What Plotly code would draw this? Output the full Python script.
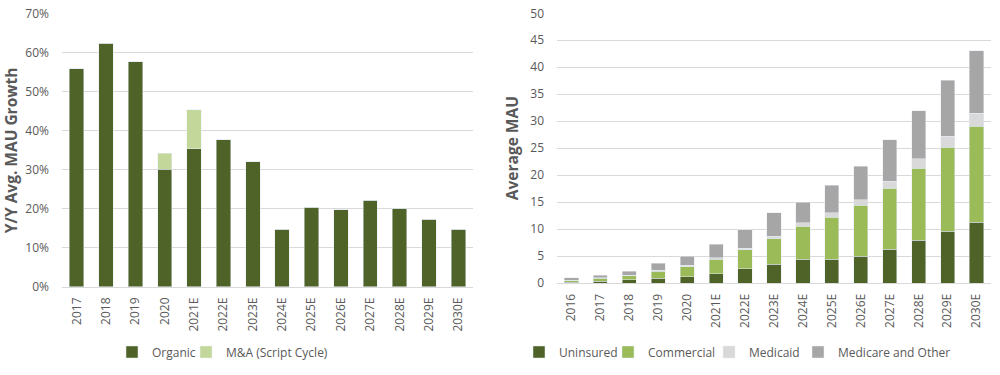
import plotly.graph_objects as go

# Left chart data
years_left = ["2017", "2018", "2019", "2020", "2021E", "2022E", "2023E", "2024E",
              "2025E", "2026E", "2027E", "2028E", "2029E", "2030E"]
organic = [0.560, 0.625, 0.578, 0.302, 0.354, 0.377, 0.321, 0.147,
           0.204, 0.197, 0.222, 0.201, 0.173, 0.147]
mna = [0, 0, 0, 0.040, 0.100, 0, 0, 0, 0, 0, 0, 0, 0, 0]

# Right chart data
years_right = ["2016", "2017", "2018", "2019", "2020", "2021E", "2022E", "2023E",
               "2024E", "2025E", "2026E", "2027E", "2028E", "2029E", "2030E"]
uninsured = [0.12, 0.37, 0.56, 0.88, 1.2, 1.73, 2.6, 3.46, 4.45, 4.45, 4.94, 6.3, 7.97, 9.64, 11.3]
commercial = [0.38, 0.5, 0.74, 1.34, 1.83, 2.72, 3.52, 4.7, 6.05, 7.75, 9.46, 11.3, 13.33, 15.56, 17.8]
medicaid = [0.05, 0.1, 0.18, 0.18, 0.25, 0.25, 0.31, 0.49, 0.7, 0.84, 1.0, 1.3, 1.75, 2.05, 2.4]
medicare = [0.38, 0.45, 0.74, 1.24, 1.72, 2.45, 3.4, 4.39, 3.8, 5.06, 6.2, 7.7, 8.9, 10.35, 11.6]

DARK = "#4F6228"
LIGHT = "#C4D79B"
COMM = "#9BBB59"
MEDICAID = "#D9D9D9"
MEDICARE = "#A6A6A6"
TXT = "#595959"
GRID = "#D9D9D9"
FONT = "Open Sans"

W, H = 1000, 375

fig = go.Figure()

# one legend box per series so each entry sits where the reference puts it
left_series = [("Organic", organic, DARK, 152), ("M&A (Script Cycle)", mna, LIGHT, 226)]
right_series = [("Uninsured", uninsured, DARK, 559), ("Commercial", commercial, COMM, 648),
                ("Medicaid", medicaid, MEDICAID, 749), ("Medicare and Other", medicare, MEDICARE, 838)]

legend_layouts = {}
idx = 1
for name, vals, col, tx in left_series:
    key = "legend" if idx == 1 else f"legend{idx}"
    fig.add_trace(go.Bar(x=years_left, y=vals, name=name, marker_color=col,
                         xaxis="x", yaxis="y", legend=key, showlegend=True))
    legend_layouts[key] = tx
    idx += 1
for name, vals, col, tx in right_series:
    key = f"legend{idx}"
    fig.add_trace(go.Bar(x=years_right, y=vals, name=name, marker_color=col,
                         xaxis="x2", yaxis="y2", legend=key, showlegend=True))
    legend_layouts[key] = tx
    idx += 1

tickfont = dict(family=FONT, size=12, color=TXT)
titlefont = dict(family=FONT, size=15.5, color=TXT, weight="bold")

layout = dict(
    width=W, height=H,
    margin=dict(l=0, r=0, t=0, b=0, autoexpand=False),
    showlegend=True,
    paper_bgcolor="white", plot_bgcolor="white",
    barmode="stack",
    bargap=0.51,
    font=dict(family=FONT, color=TXT),
    hovermode=False,
    xaxis=dict(domain=[62 / W, 473 / W], anchor="y", tickangle=-90, tickfont=tickfont,
               showline=True, linecolor=GRID, linewidth=1, ticks="", showgrid=False,
               automargin=False, ticklabelstandoff=5),
    yaxis=dict(domain=[1 - 286.7 / H, 1 - 14 / H], anchor="x", range=[0, 0.7],
               dtick=0.1, tickformat=".0%", tickfont=tickfont, gridcolor=GRID,
               gridwidth=1, zeroline=False, ticks="", automargin=False,
               ticklabelstandoff=12,
               title=dict(text="Y/Y Avg. MAU Growth", font=titlefont, standoff=6)),
    xaxis2=dict(domain=[557 / W, 991 / W], anchor="y2", tickangle=-90, tickfont=tickfont,
                showline=True, linecolor=GRID, linewidth=1, ticks="", showgrid=False,
                automargin=False, ticklabelstandoff=5),
    yaxis2=dict(domain=[1 - 283 / H, 1 - 13.3 / H], anchor="x2", range=[0, 50],
                dtick=5, tickfont=tickfont, gridcolor=GRID, gridwidth=1,
                zeroline=False, ticks="", automargin=False, ticklabelstandoff=12,
                title=dict(text="Average MAU", font=titlefont, standoff=7)),
)
for key, tx in legend_layouts.items():
    layout[key] = dict(orientation="h", x=(tx - 40) / W, xanchor="left",
                       y=1 - 352 / H, yanchor="middle",
                       font=dict(family=FONT, size=12, color=TXT),
                       itemwidth=30, bgcolor="rgba(0,0,0,0)", visible=True)
fig.update_layout(**layout)

fig.write_html("out.html",
               config={"displayModeBar": False, "staticPlot": True},
               post_script="document.body.style.margin='0';document.body.style.padding='0';")
